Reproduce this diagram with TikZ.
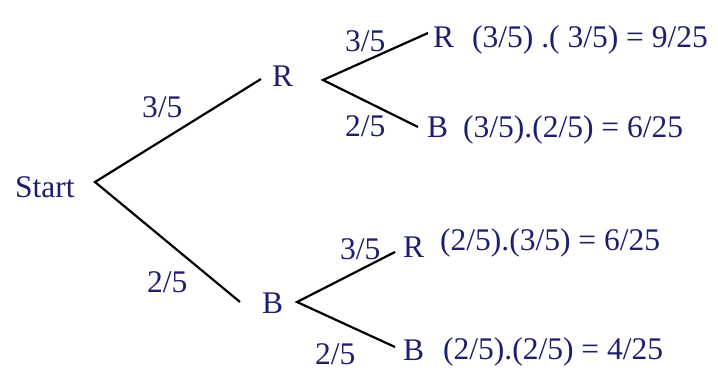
\documentclass[tikz,border=0pt]{standalone}
\usepackage{fontspec}
\setmainfont{Liberation Serif}
\newfontfamily\timesfont{Liberation Serif}
\definecolor{navy}{RGB}{30,30,110}
\begin{document}
\begin{tikzpicture}[x=1pt,y=-1pt,
  txt/.style={anchor=base west,inner sep=0pt,text=navy,font=\timesfont\fontsize{31.5}{36}\selectfont},
  branch/.style={line width=2.2pt,black}]
\useasboundingbox[fill=white] (0,0) rectangle (718,370);
% labels of outcomes
\node[txt] (start) at (15,197) {Start};
\node[txt] (r1) at (272,86) {R};
\node[txt] (b1) at (262,313) {B};
\node[txt] (r2) at (433,47) {R};
\node[txt] (b2) at (427,137) {B};
\node[txt] (r3) at (403,257) {R};
\node[txt] (b3) at (403,360) {B};
% products
\node[txt] (f1) at (472,47) {(3/5) .( 3/5) = 9/25};
\node[txt] (f2) at (463,137) {(3/5).(2/5) = 6/25};
\node[txt] (f3) at (440,250) {(2/5).(3/5) = 6/25};
\node[txt] (f4) at (443,359) {(2/5).(2/5) = 4/25};
% branch probabilities
\node[txt] (p1) at (142,117) {3/5};
\node[txt] (p2) at (147,292) {2/5};
\node[txt] (p3) at (345,51) {3/5};
\node[txt] (p4) at (345,136) {2/5};
\node[txt] (p5) at (340,259) {3/5};
\node[txt] (p6) at (315,364) {2/5};
% joints and branch ends
\coordinate (j0) at (95,182);
\coordinate (e1) at (261,79);
\coordinate (e2) at (240,302);
\coordinate (j1) at (323,80);
\coordinate (e3) at (428,33);
\coordinate (e4) at (418,127);
\coordinate (j2) at (297,302);
\coordinate (e5) at (395,252);
\coordinate (e6) at (395,347);
\draw[branch] (e1) -- (j0) -- (e2);
\draw[branch] (e3) -- (j1) -- (e4);
\draw[branch] (e5) -- (j2) -- (e6);
\end{tikzpicture}
\end{document}
